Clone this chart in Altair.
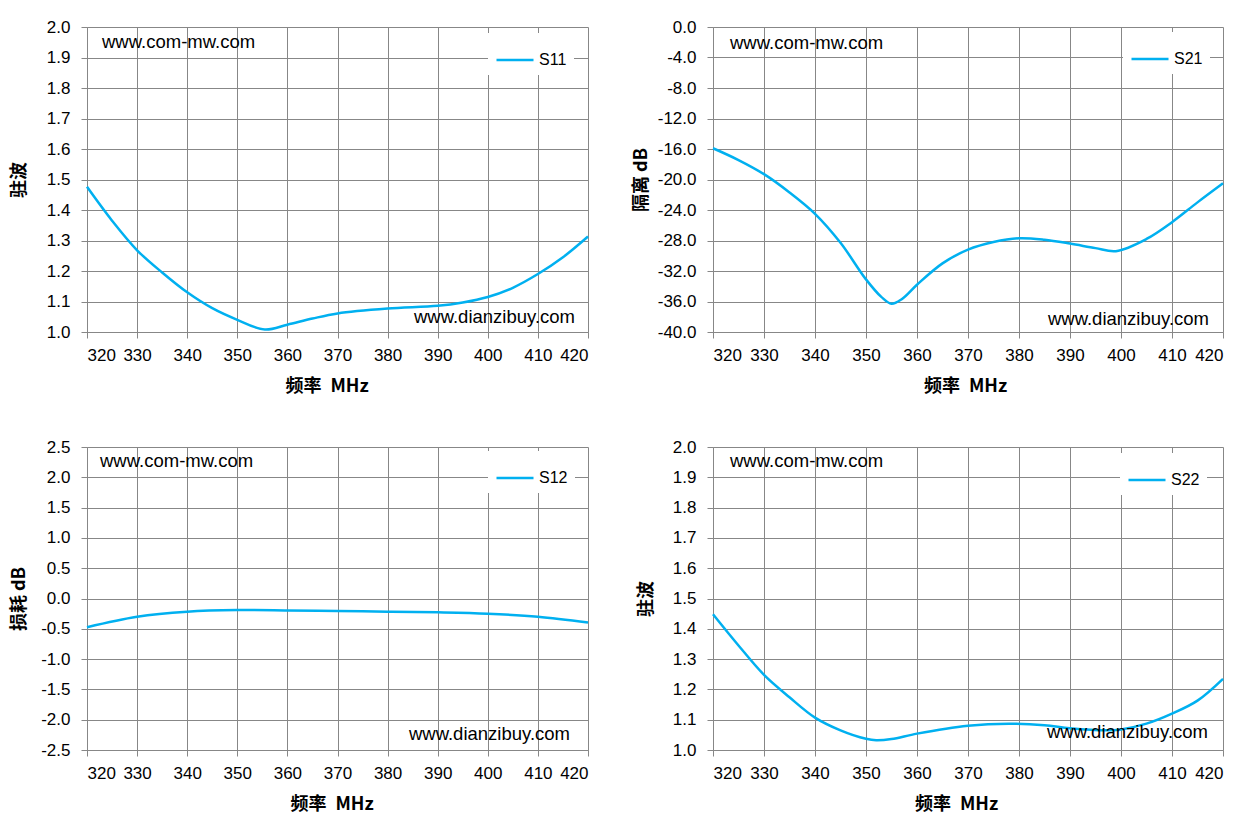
import altair as alt
import pandas as pd

# frequency ticks shared by all four panels (MHz)
freq_ticks = [320, 330, 340, 350, 360, 370, 380, 390, 400, 410, 420]

# S11 VSWR
s11_freq = [320, 325, 330, 335, 340, 345, 350, 355.5, 360, 365, 370, 380, 390, 395, 400, 405, 410, 415, 420]
s11_vswr = [1.476, 1.365, 1.268, 1.195, 1.13, 1.078, 1.04, 1.008, 1.024, 1.044, 1.061, 1.077, 1.086, 1.097,
            1.115, 1.145, 1.19, 1.245, 1.313]

# S21 isolation dB
s21_freq = [320, 325, 330, 335, 340, 345, 350, 353, 355, 357, 360, 365, 370, 375, 380, 385, 390, 395,
            399, 405, 410, 415, 420]
s21_db = [-15.9, -17.45, -19.3, -21.7, -24.5, -28.3, -33.1, -35.4, -36.3, -35.7, -33.8, -31.0, -29.2,
          -28.2, -27.7, -27.9, -28.4, -29.0, -29.4, -27.8, -25.6, -23.0, -20.5]

# S12 insertion loss dB
s12_freq = [320, 330, 340, 350, 360, 370, 380, 390, 400, 410, 420]
s12_db = [-0.473, -0.30, -0.217, -0.19, -0.196, -0.207, -0.217, -0.228, -0.25, -0.30, -0.397]

# S22 VSWR
s22_freq = [320, 325, 330, 335, 340, 345, 350, 352, 355, 360, 370, 378, 385, 390, 397, 400, 405, 410, 415, 420]
s22_vswr = [1.448, 1.345, 1.248, 1.174, 1.107, 1.065, 1.037, 1.032, 1.036, 1.054, 1.080, 1.087, 1.082,
            1.072, 1.065, 1.068, 1.087, 1.12, 1.163, 1.235]

vswr_ticks = [1.0, 1.1, 1.2, 1.3, 1.4, 1.5, 1.6, 1.7, 1.8, 1.9, 2.0]
iso_ticks = [0, -4, -8, -12, -16, -20, -24, -28, -32, -36, -40]
loss_ticks = [2.5, 2.0, 1.5, 1.0, 0.5, 0.0, -0.5, -1.0, -1.5, -2.0, -2.5]

BLUE = "#00b0f0"
GRID = "#878787"
LATIN = "Liberation Sans"
CJK = "Noto Sans CJK SC"
# plain hyphen instead of d3's unicode minus, like the original
Y_LABEL = "replace(format(datum.value, '.1f'), '\u2212', '-')"


def panel(freq, values, name, y_title, y_ticks, y_domain, w, h, title_pad, x_title_shift,
          leg_xy, top_xy, bot_xy):
    df = pd.DataFrame({"freq": freq, "value": values, "series": name})
    line = alt.Chart(df).mark_line(strokeWidth=2.5, interpolate="catmull-rom").encode(
        x=alt.X(
            "freq:Q",
            scale=alt.Scale(domain=[320, 420], nice=False, zero=False),
            axis=alt.Axis(values=freq_ticks, format="d", title="频率\u2002MHz",
                          labelPadding=9, titlePadding=14, titleX=w / 2 + x_title_shift),
        ),
        y=alt.Y(
            "value:Q",
            scale=alt.Scale(domain=y_domain, nice=False, zero=False),
            axis=alt.Axis(values=y_ticks, labelExpr=Y_LABEL, title=y_title, labelPadding=11,
                          minExtent=45, maxExtent=45, titlePadding=title_pad),
        ),
        color=alt.Color(
            "series:N",
            scale=alt.Scale(domain=[name], range=[BLUE]),
            legend=alt.Legend(
                title=None, orient="none", legendX=leg_xy[0], legendY=leg_xy[1],
                fillColor="white", padding=7, symbolType="stroke", symbolSize=1369,
                symbolStrokeWidth=2.5, labelFont=LATIN, labelFontSize=16, labelColor="#000000",
                labelOffset=4,
            ),
        ),
    )
    top = alt.Chart(pd.DataFrame({"t": ["www.com-mw.com"]})).mark_text(
        align="left", baseline="middle", font=LATIN, fontSize=18.5, color="#000000"
    ).encode(text="t:N", x=alt.value(top_xy[0]), y=alt.value(top_xy[1]))
    bot = alt.Chart(pd.DataFrame({"t": ["www.dianzibuy.com"]})).mark_text(
        align="right", baseline="middle", font=LATIN, fontSize=18.5, color="#000000"
    ).encode(text="t:N", x=alt.value(bot_xy[0]), y=alt.value(bot_xy[1]))
    return alt.layer(line, top, bot).properties(width=w, height=h)


tl = panel(s11_freq, s11_vswr, "S11", "驻波", vswr_ticks, [1.0, 2.0], 501, 305, 14, -11,
           (401, 6), (15, 15), (488, 290))
tr = panel(s21_freq, s21_db, "S21", "隔离 dB", iso_ticks, [-40, 0], 510, 305, 18, -3,
           (410, 5), (17, 16), (496, 292))
bl = panel(s12_freq, s12_db, "S12", "损耗 dB", loss_ticks, [-2.5, 2.5], 501, 303, 14, -6,
           (401, 4), (13, 14), (483, 287))
br = panel(s22_freq, s22_vswr, "S22", "驻波", vswr_ticks, [1.0, 2.0], 510, 303, 13, -12,
           (407, 6), (17, 14), (495, 285))

chart = (
    alt.concat(tl, tr, bl, br, columns=2, spacing={"row": 115, "column": 125}, bounds="flush")
    .resolve_scale(color="independent")
    .properties(padding={"left": 2, "top": 10, "right": 5, "bottom": 5}, background="white")
    .configure_view(strokeWidth=0)
    .configure_axis(
        gridColor=GRID,
        gridWidth=1,
        domainColor=GRID,
        domainWidth=1,
        tickColor=GRID,
        tickSize=6,
        labelFont=LATIN,
        labelFontSize=17,
        labelColor="#000000",
        titleFont=CJK,
        titleFontSize=18,
        titleFontWeight="bold",
        titleColor="#000000",
    )
)

chart.save("out.html", embed_options={"renderer": "svg", "actions": False})
